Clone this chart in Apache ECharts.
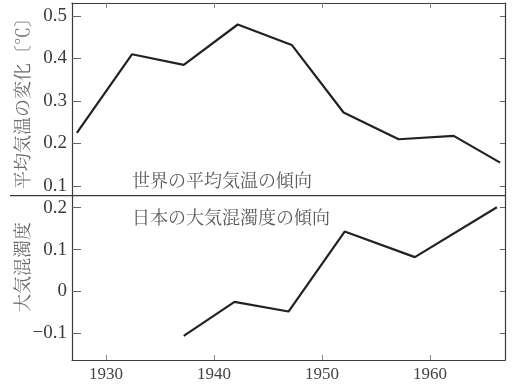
<!DOCTYPE html>
<html>
<head>
<meta charset="utf-8">
<script src="https://cdn.jsdelivr.net/npm/echarts@6/dist/echarts.min.js"></script>
<style>
html, body { margin: 0; padding: 0; background: #fff; }
#chart { width: 512px; height: 385px; }
</style>
</head>
<body>
<div id="chart"></div>
<script>
// World mean temperature change (°C), 5-year means
const tempYears = [1927.3, 1932.4, 1937.2, 1942.2, 1947.2, 1952.0, 1957.1, 1962.2, 1966.5];
const tempValues = [0.225, 0.41, 0.385, 0.48, 0.432, 0.273, 0.21, 0.218, 0.155];

// Atmospheric turbidity over Japan
const turbYears = [1937.2, 1941.9, 1946.9, 1952.1, 1958.6, 1966.2];
const turbValues = [-0.106, -0.025, -0.048, 0.143, 0.082, 0.201];

const yearTicks = [1930, 1940, 1950, 1960];
const tempTicks = [0.1, 0.2, 0.3, 0.4, 0.5];
const turbTicks = [-0.1, 0, 0.1, 0.2];

const tempName = '平均気温の変化〔℃〕';
const turbName = '大気混濁度';
const tempCaption = '世界の平均気温の傾向';
const turbCaption = '日本の大気混濁度の傾向';

const serif = "'Liberation Serif', serif";
const jp = "'Noto Serif CJK JP', 'Noto Sans CJK JP', serif";
const frame = '#3a3a3a';

const pairs = (xs, ys) => xs.map((x, i) => [x, ys[i]]);

const xRange = { min: 1926.85, max: 1966.95 };

function xAxisFor(grid, pos, labels) {
  return {
    type: 'value', gridIndex: grid, position: pos,
    min: xRange.min, max: xRange.max,
    axisLine: { show: true, onZero: false, lineStyle: { color: frame, width: 1.2 } },
    axisTick: { show: true, inside: true, length: 5, customValues: yearTicks,
      lineStyle: { color: '#888', width: 1 } },
    axisLabel: labels ? {
      show: true, customValues: yearTicks, margin: 6,
      fontFamily: serif, fontSize: 17, color: '#444',
      formatter: v => String(Math.round(v))
    } : { show: false },
    splitLine: { show: false }
  };
}

function yAxisFor(grid, pos, min, max, ticks, labels) {
  return {
    type: 'value', gridIndex: grid, position: pos, min, max,
    axisLine: { show: true, onZero: false, lineStyle: { color: frame, width: 1.2 } },
    axisTick: { show: true, inside: true, length: labels ? 9 : 5, customValues: ticks,
      lineStyle: { color: '#666', width: 1 } },
    axisLabel: labels ? {
      show: true, customValues: ticks, margin: 5,
      fontFamily: serif, fontSize: 19, color: '#3a3a3a',
      formatter: v => {
        if (Math.abs(v) < 1e-9) return '0';
        const s = Math.abs(v).toFixed(1);
        return v < 0 ? '\u2212' + s : s;
      }
    } : { show: false },
    splitLine: { show: false }
  };
}

const chart = echarts.init(document.getElementById('chart'));
chart.setOption({
  animation: false,
  backgroundColor: '#fff',
  textStyle: { fontFamily: serif },
  grid: [
    { left: 72, right: 7, top: 3, height: 192.7, show: false },
    { left: 72, right: 7, top: 195.7, height: 164.3, show: false }
  ],
  xAxis: [
    xAxisFor(0, 'top', false),
    xAxisFor(1, 'bottom', true)
  ],
  yAxis: [
    yAxisFor(0, 'left', 0.0772, 0.5306, tempTicks, true),
    yAxisFor(0, 'right', 0.0772, 0.5306, tempTicks, false),
    yAxisFor(1, 'left', -0.1638, 0.2287, turbTicks, true),
    yAxisFor(1, 'right', -0.1638, 0.2287, turbTicks, false)
  ],
  series: [
    {
      type: 'line', xAxisIndex: 0, yAxisIndex: 0,
      data: pairs(tempYears, tempValues),
      symbol: 'none', lineStyle: { color: '#222', width: 2.2 }
    },
    {
      type: 'line', xAxisIndex: 1, yAxisIndex: 2,
      data: pairs(turbYears, turbValues),
      symbol: 'none', lineStyle: { color: '#222', width: 2.2 }
    }
  ],
  graphic: [
    // divider between the two panels, running out under the labels
    { type: 'line', shape: { x1: 10, y1: 195.7, x2: 505, y2: 195.7 },
      style: { stroke: frame, lineWidth: 1.3 }, z: 10 },
    { type: 'text', x: 132, y: 180,
      style: { text: tempCaption, font: '18px ' + jp, fill: '#5a5a5a',
        textAlign: 'left', textVerticalAlign: 'middle' } },
    { type: 'text', x: 132, y: 217.5,
      style: { text: turbCaption, font: '18px ' + jp, fill: '#5a5a5a',
        textAlign: 'left', textVerticalAlign: 'middle' } },
    { type: 'text', x: 22, y: 99, rotation: Math.PI / 2,
      style: { text: tempName, font: '18px ' + jp, fill: '#6a6a6a',
        textAlign: 'center', textVerticalAlign: 'middle' } },
    { type: 'text', x: 22, y: 267, rotation: Math.PI / 2,
      style: { text: turbName, font: '18px ' + jp, fill: '#6a6a6a',
        textAlign: 'center', textVerticalAlign: 'middle' } }
  ]
});
</script>
</body>
</html>
